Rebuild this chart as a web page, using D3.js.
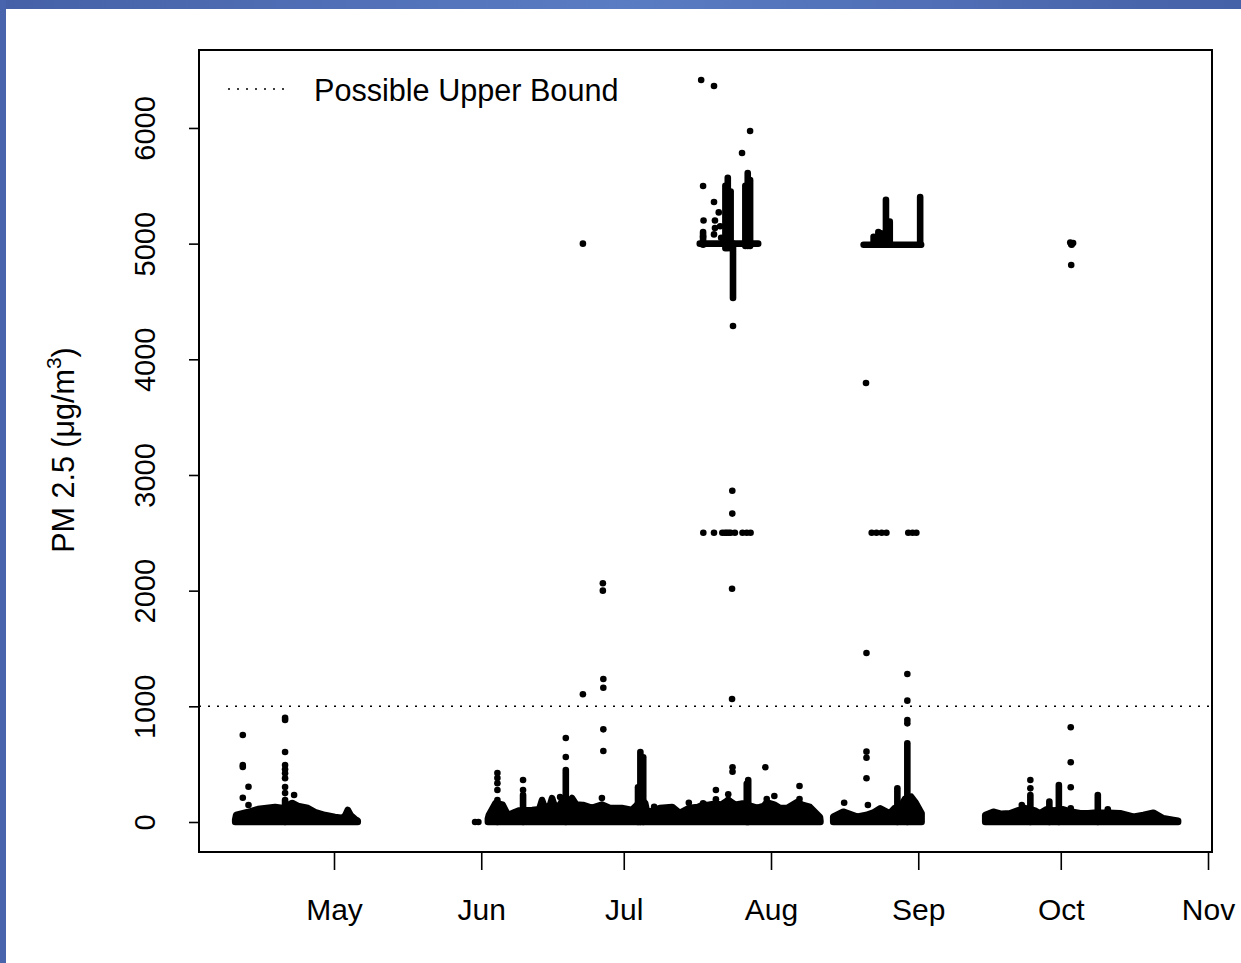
<!DOCTYPE html>
<html><head><meta charset="utf-8">
<script src="https://cdn.jsdelivr.net/npm/d3@7"></script>
<style>body{margin:0;background:#fff}</style>
</head><body><svg id="c" width="1241" height="963"></svg>
<script>
// ---- data (days counted from 1 Apr 2020) ----
const monthTicks = ["2020-05-01","2020-06-01","2020-07-01","2020-08-01","2020-09-01","2020-10-01","2020-11-01"];
const monthLabels = ["May","Jun","Jul","Aug","Sep","Oct","Nov"];
const yTicks = [0,1000,2000,3000,4000,5000,6000];
const upperBound = 1000;
const legendLabel = "Possible Upper Bound";

// dense low-value bands: [day, upper envelope of the dense dots]
const bandApr = [[9.2,20],[9.4,60],[11.9,86],[14,112],[17.6,130],[19.1,120],[21.2,164],[22.4,138],[24.5,121],[26,86],[28.1,60],[30.2,43],[31.9,35],[32.4,60],[32.9,104],[33.5,60],[34.4,26],[35,10]];
const bandJul = [[62.4,30],[62.6,60],[64,164],[65.5,150],[66.6,60],[68.1,86],[69,100],[71.7,104],[73.2,110],[73.8,190],[74.4,120],[74.8,121],[75.5,150],[75.9,207],[76.5,130],[77.6,150],[78.2,200],[79.5,170],[80.1,207],[81,150],[82.4,147],[84.3,121],[86.4,150],[88.1,121],[90.6,121],[92.7,104],[93.8,147],[94.6,200],[95.5,164],[95.9,86],[97.4,100],[98.6,121],[101.2,130],[102.8,78],[104.7,120],[106.6,130],[107.7,150],[108.7,147],[110.4,160],[111.5,150],[113,190],[114.5,150],[116,160],[119.1,121],[120.5,140],[121.1,170],[122.7,150],[123.9,121],[125.4,121],[127.5,173],[128.5,150],[130.2,130],[132.3,43],[132.4,10]];
const bandSep = [[135.1,46],[137.2,89],[140.1,46],[142,60],[143.5,80],[145,118],[147,75],[148,120],[149.5,150],[150.2,200],[151.5,219],[152.5,164],[153.7,75]];
const bandOct = [[167.1,60],[168.8,89],[170.5,70],[172.3,75],[174,100],[175.5,120],[177.5,100],[178.6,75],[180,110],[181.5,100],[183.5,110],[185,90],[187.1,75],[188.8,75],[190,80],[191.5,80],[192.9,80],[195.5,75],[198.3,46],[200.4,60],[202.5,80],[204.6,32],[206.7,17],[207.7,10]];

// vertical stacks of overlapping dots: [day, low, high]
const columns = [
  [19.7,0,190],[64.4,0,190],[69.8,0,233],[78.8,0,450],[94.0,0,300],[94.5,0,605],[95.1,0,560],
  [116.9,0,330],[117.2,0,363],[148.6,0,291],[150.7,0,680],[176.6,0,233],[180.6,0,176],[182.6,0,320],[190.8,0,233],
  [107.7,4990,5100],[112.4,4960,5500],[112.9,4960,5570],[113.5,4960,5450],[114.0,4530,5000],
  [116.6,4980,5500],[117.1,4980,5610],[117.6,4980,5550],
  [143.6,4990,5060],[144.6,4990,5100],[145.2,4990,5090],[146.2,4990,5378],[147.0,4990,5190],[153.4,4990,5403]
];
// horizontal runs of overlapping dots at the sensor ceiling: [day from, day to, value]
const runs = [[107.0,119.3,5000],[141.5,153.6,4990]];

// isolated readings: [day, value]
const points = [
  [10.8,752],[10.8,493],[10.8,475],[12.0,305],[10.8,210],[12.0,147],[21.6,233],
  [19.7,250],[19.7,303],[19.7,378],[19.7,421],[19.7,455],[19.7,493],[19.7,605],[19.7,882],[19.7,900],
  [59.7,0],[60.4,0],[64.4,277],[64.4,335],[64.4,380],[64.4,424],[69.8,277],[69.8,363],[77.6,216],
  [78.8,562],[78.8,726],[82.4,1104],[82.4,5000],[86.4,207],[86.7,614],[86.7,801],[86.7,1161],[86.7,1236],[86.6,2000],[86.6,2064],
  [97.4,132],[104.7,167],[107.7,162],[110.4,277],[110.4,196],[113.0,239],[113.0,190],[113.9,473],[113.9,435],
  [113.8,1063],[113.8,2017],[113.85,2666],[113.85,2864],[120.8,473],[121.1,199],[122.7,225],[128,311],[128,199],
  [107.75,2501],[110.0,2501],[111.75,2501],[112.3,2501],[112.67,2501],[113.1,2501],[113.5,2501],[114.4,2501],[116.0,2501],[116.9,2501],[117.7,2501],
  [107.3,6415],[110.0,6363],[117.6,5974],[115.9,5784],[107.7,5498],[110.0,5360],[107.8,5200],[110.2,5200],[110.2,5135],[110.0,5080],[107.7,5060],
  [111.0,5270],[111.3,5150],[111.5,5050],[114.0,4288],
  [137.4,167],[142.0,3795],[142.1,1461],[142.1,608],[142.1,556],[142.1,378],[142.4,147],
  [143.2,2501],[144.2,2501],[145.3,2501],[146.3,2501],[150.9,2501],[151.8,2501],[152.6,2501],
  [150.7,853],[150.7,882],[150.7,1049],[150.7,1280],
  [174.8,147],[176.6,291],[176.6,363],[185.1,819],[185.1,516],[185.1,300],[185.1,118],[192.9,110],
  [185.0,5010],[185.3,4990],[185.6,5005],[185.2,4995],[185.2,4815]
];

// ---- drawing ----
const base = Date.UTC(2020,3,1);
const toDate = d => new Date(base + d*864e5);
const svg = d3.select("#c");
const font = "'Liberation Sans', Arial, sans-serif";

// slide frame
const defs = svg.append("defs");
const g1 = defs.append("linearGradient").attr("id","topband");
g1.append("stop").attr("offset","0%").attr("stop-color","#4560a6");
g1.append("stop").attr("offset","50%").attr("stop-color","#5a7cc3");
g1.append("stop").attr("offset","100%").attr("stop-color","#4561a7");
svg.append("rect").attr("x",0).attr("y",0).attr("width",1241).attr("height",9).attr("fill","url(#topband)");
svg.append("rect").attr("x",0).attr("y",0).attr("width",6).attr("height",963).attr("fill","#4864ad");

const L = 199, R = 1212, T = 50, B = 852;
const x = d3.scaleUtc().domain([toDate(1.579), toDate(214.84)]).range([L, R]);
const y = d3.scaleLinear().domain([-259.4, 6674]).range([B, T]);

const marks = svg.append("g");
const area = d3.area().x(d => x(toDate(d[0]))).y0(y(0)).y1(d => y(d[1])).curve(d3.curveLinear);
[bandApr, bandJul, bandSep, bandOct].forEach(b => {
  marks.append("path").attr("d", area(b)).attr("fill","#000").attr("stroke","#000")
    .attr("stroke-width",6.6).attr("stroke-linejoin","round");
});
marks.selectAll("line.col").data(columns).join("line").attr("class","col")
  .attr("x1", d => x(toDate(d[0]))).attr("x2", d => x(toDate(d[0])))
  .attr("y1", d => y(d[1])).attr("y2", d => y(d[2]))
  .attr("stroke","#000").attr("stroke-width",6.6).attr("stroke-linecap","round");
marks.selectAll("line.run").data(runs).join("line").attr("class","run")
  .attr("x1", d => x(toDate(d[0]))).attr("x2", d => x(toDate(d[1])))
  .attr("y1", d => y(d[2])).attr("y2", d => y(d[2]))
  .attr("stroke","#000").attr("stroke-width",6.6).attr("stroke-linecap","round");
marks.selectAll("circle").data(points).join("circle")
  .attr("cx", d => x(toDate(d[0]))).attr("cy", d => y(d[1])).attr("r",3.3).attr("fill","#000");

// upper bound line
svg.append("line").attr("x1",L).attr("x2",R).attr("y1",y(upperBound)).attr("y2",y(upperBound))
  .attr("stroke","#000").attr("stroke-width",1.6).attr("stroke-dasharray","2,7");

// axes
const xa = svg.append("g").attr("transform",`translate(0,${B})`)
  .call(d3.axisBottom(x).tickValues(monthTicks.map(s => new Date(s+"T00:00:00Z")))
    .tickFormat((d,i) => monthLabels[i]).tickSize(18).tickSizeOuter(0).tickPadding(29));
xa.select(".domain").remove();
xa.selectAll("line").attr("stroke","#000").attr("stroke-width",1.6);
xa.selectAll("text").attr("font-family",font).attr("font-size",30).attr("fill","#000");

const ya = svg.append("g").attr("transform",`translate(${L},0)`)
  .call(d3.axisLeft(y).tickValues(yTicks).tickFormat(d3.format("d")).tickSize(10).tickSizeOuter(0));
ya.select(".domain").remove();
ya.selectAll("line").attr("stroke","#000").attr("stroke-width",1.6);
ya.selectAll("text").attr("font-family",font).attr("font-size",29).attr("fill","#000")
  .attr("transform","rotate(-90)").attr("x",0).attr("y",-44).attr("dy",0).attr("text-anchor","middle");

// y label
const yl = svg.append("text").attr("transform","translate(74,450) rotate(-90)")
  .attr("text-anchor","middle").attr("font-family",font).attr("font-size",30.5).attr("fill","#000");
yl.append("tspan").text("PM 2.5 (\u03bcg/m");
yl.append("tspan").attr("font-size",21).attr("dy",-13).text("3");
yl.append("tspan").attr("dy",13).text(")");

// legend
svg.append("line").attr("x1",228).attr("x2",286).attr("y1",89).attr("y2",89)
  .attr("stroke","#000").attr("stroke-width",1.6).attr("stroke-dasharray","2,7");
svg.append("text").attr("x",314).attr("y",101).attr("font-family",font).attr("font-size",30.6)
  .attr("fill","#000").text(legendLabel);

// plot box
svg.append("rect").attr("x",L).attr("y",T).attr("width",R-L).attr("height",B-T)
  .attr("fill","none").attr("stroke","#000").attr("stroke-width",2);
</script></body></html>
